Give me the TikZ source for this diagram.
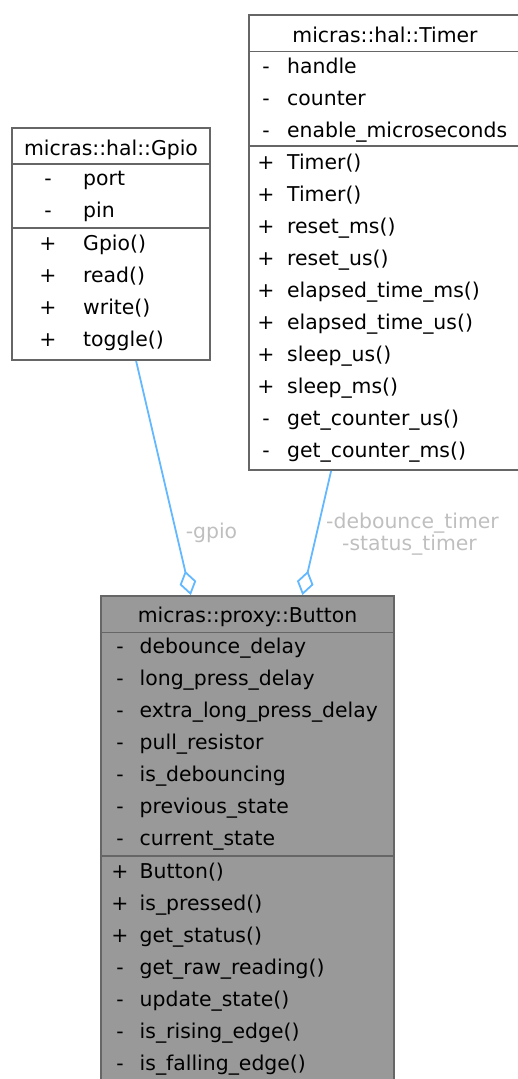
\documentclass[tikz,border=0pt]{standalone}
\usepackage{fontspec}
\setmainfont{DejaVu Sans}
\usetikzlibrary{arrows.meta,calc}
\definecolor{frame}{HTML}{666666}
\definecolor{focusfill}{HTML}{999999}
\definecolor{edgeblue}{HTML}{63B8FF}
\definecolor{labelgrey}{HTML}{BFBFBF}
\begin{document}
\begin{tikzpicture}[x=1pt,y=-1pt,
  font=\fontsize{20.4}{24}\selectfont,
  classbox/.style={draw=frame,line width=1.8pt,rectangle,inner sep=0pt},
  divider/.style={draw=frame,line width=1.8pt},
  txt/.style={inner sep=0pt,anchor=base west},
  sign/.style={inner sep=0pt,anchor=base},
  title/.style={inner sep=0pt,anchor=base},
  edge/.style={draw=edgeblue,line width=1.8pt,{Diamond[open,length=25pt,width=17pt]}-},
  edgelabel/.style={text=labelgrey,inner sep=0pt,align=center}]
\useasboundingbox (0,0) rectangle (518,1079);
\clip (0,0) rectangle (518,1079);

% ---- micras::hal::Gpio ----
\node[classbox,fill=white,minimum width=198pt,minimum height=232pt] (gpio) at (111,244) {};
\draw[divider] (gpio.west |- 0,164) -- (gpio.east |- 0,164);
\draw[divider] (gpio.west |- 0,228) -- (gpio.east |- 0,228);
\node[title] (gpioT) at (111,155) {micras::hal::Gpio};
\foreach \n/\s/\t/\y in {ga1/-/port/185, ga2/-/pin/217,
    gm1/+/Gpio()/250, gm2/+/read()/282, gm3/+/write()/314, gm4/+/toggle()/346}{
  \node[sign] (\n s) at (48,\y) {\s};
  \node[txt] (\n) at (83,\y) {\t};
}

% ---- micras::hal::Timer ----
\node[classbox,fill=white,minimum width=272pt,minimum height=455pt] (timer) at (385,242.5) {};
\draw[divider] (timer.west |- 0,51.5) -- (timer.east |- 0,51.5);
\draw[divider] (timer.west |- 0,146) -- (timer.east |- 0,146);
\node[title] (timerT) at (385,42) {micras::hal::Timer};
\foreach \n/\s/\t/\y in {ta1/-/handle/73, ta2/-/counter/105, ta3/-/enable\_microseconds/137,
    tm1/+/Timer()/169, tm2/+/Timer()/201, tm3/+/reset\_ms()/233, tm4/+/reset\_us()/265,
    tm5/+/elapsed\_time\_ms()/297, tm6/+/elapsed\_time\_us()/329, tm7/+/sleep\_us()/361,
    tm8/+/sleep\_ms()/393, tm9/-/get\_counter\_us()/425, tm10/-/get\_counter\_ms()/457}{
  \node[sign] (\n s) at (266,\y) {\s};
  \node[txt] (\n) at (287,\y) {\t};
}

% ---- micras::proxy::Button ----
\node[classbox,fill=focusfill,minimum width=293pt,minimum height=488pt] (button) at (247.5,840) {};
\draw[divider] (button.west |- 0,632.5) -- (button.east |- 0,632.5);
\draw[divider] (button.west |- 0,856) -- (button.east |- 0,856);
\node[title] (buttonT) at (247.5,622) {micras::proxy::Button};
\foreach \n/\s/\t/\y in {ba1/-/debounce\_delay/653, ba2/-/long\_press\_delay/685,
    ba3/-/extra\_long\_press\_delay/717, ba4/-/pull\_resistor/749, ba5/-/is\_debouncing/781,
    ba6/-/previous\_state/813, ba7/-/current\_state/845,
    bm1/+/Button()/878, bm2/+/is\_pressed()/910, bm3/+/get\_status()/942,
    bm4/-/get\_raw\_reading()/974, bm5/-/update\_state()/1006, bm6/-/is\_rising\_edge()/1038,
    bm7/-/is\_falling\_edge()/1070}{
  \node[sign] (\n s) at (120,\y) {\s};
  \node[txt] (\n) at (139.5,\y) {\t};
}

% ---- aggregation edges ----
\draw[edge] ([xshift=90.7pt]button.north west) -- ([xshift=125pt]gpio.south west);
\draw[edge] ([xshift=202.3pt]button.north west) -- ([xshift=83pt]timer.south west);
\node[edgelabel,anchor=base] (lgpio) at (211.5,538) {-gpio};
\node[edgelabel,anchor=base] (ltimer1) at (412.5,528) {-debounce\_timer};
\node[edgelabel,anchor=base] (ltimer2) at (409.5,550.5) {-status\_timer};
\end{tikzpicture}
\end{document}
